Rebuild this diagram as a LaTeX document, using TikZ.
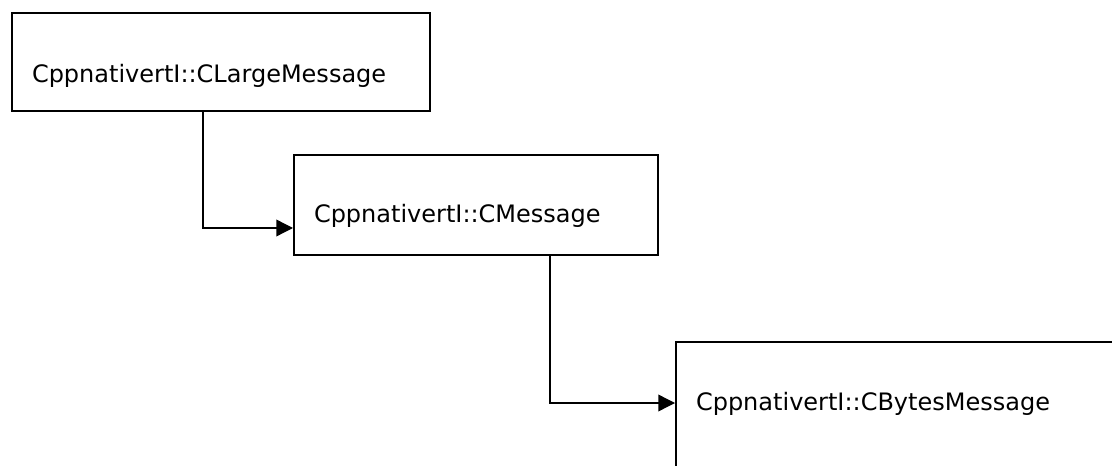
\documentclass[tikz,border=0pt]{standalone}
\usepackage{fontspec}
\setmainfont{DejaVu Sans}
\usetikzlibrary{arrows.meta}
\begin{document}
\begin{tikzpicture}[x=0.75pt,y=-0.75pt,>={Triangle[length=12.5pt,width=12.5pt]},line join=miter,font=\fontsize{18pt}{22pt}\selectfont,
	box/.style={draw,line width=1.5pt,rectangle,align=left,inner xsep=15pt,inner ysep=0pt,anchor=north west},
	link/.style={->,line width=1pt}]
	\useasboundingbox (0,0) rectangle (1112,466);
	\clip (0,0) rectangle (1112,466);
	\node[box,text width=283.5pt,text height=52.5pt,text depth=21pt] (lgm) at (11,12) {CppnativertI::CLargeMessage};
	\node[box,text width=243pt,text height=51pt,text depth=24pt] (msg) at (293,154) {CppnativertI::CMessage};
	\node[box,text width=400pt,text height=51pt,text depth=70pt] (bts) at (675,341) {CppnativertI::CBytesMessage};
	\draw[link] ([xshift=-13.5pt]lgm.south) |- ([yshift=-55.5pt]msg.north west);
	\draw[link] ([xshift=55.5pt]msg.south) |- ([yshift=-46.5pt]bts.north west);
\end{tikzpicture}
\end{document}
